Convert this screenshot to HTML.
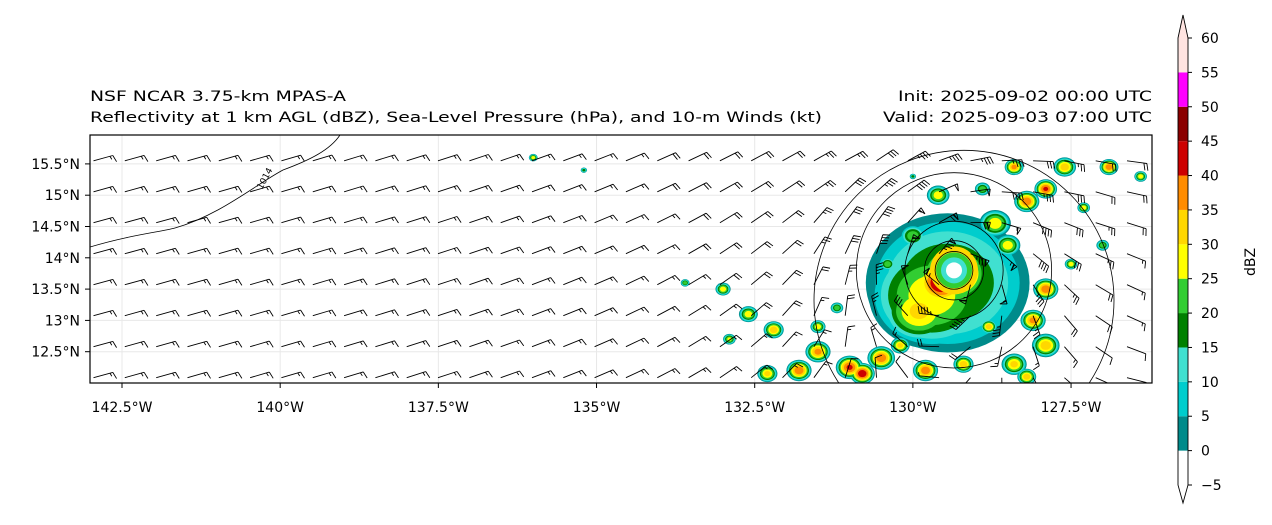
<!DOCTYPE html>
<html><head><meta charset="utf-8"><style>
body{margin:0;background:#fff;}
svg text{font-family:"DejaVu Sans","Liberation Sans",sans-serif;}
</style></head><body>
<svg id="s" width="1272" height="520" viewBox="0 0 1272 520" xmlns="http://www.w3.org/2000/svg">
<defs><clipPath id="pc"><rect x="90" y="135" width="1062" height="248"/></clipPath></defs>
<text x="90" y="101" font-size="14" textLength="256" lengthAdjust="spacingAndGlyphs">NSF NCAR 3.75-km MPAS-A</text>
<text x="90" y="122" font-size="14" textLength="732" lengthAdjust="spacingAndGlyphs">Reflectivity at 1 km AGL (dBZ), Sea-Level Pressure (hPa), and 10-m Winds (kt)</text>
<text x="898" y="101" font-size="14" textLength="254" lengthAdjust="spacingAndGlyphs">Init: 2025-09-02 00:00 UTC</text>
<text x="883" y="122" font-size="14" textLength="269" lengthAdjust="spacingAndGlyphs">Valid: 2025-09-03 07:00 UTC</text>
<g id="grid"></g>
<g id="refl" clip-path="url(#pc)"></g>
<g id="slp" clip-path="url(#pc)" fill="none" stroke="#000" stroke-width="0.8"></g>
<g id="barbs" clip-path="url(#pc)" stroke="#000" stroke-width="0.9" fill="none"></g>
<rect x="90" y="135" width="1062" height="248" fill="none" stroke="#000" stroke-width="1.2"/>
<g id="axes" font-size="14"></g>
<g id="cbar"></g>
</svg>
<script>
const lonTicks=[-142.5,-140,-137.5,-135,-132.5,-130,-127.5];
const latTicks=[12.5,13,13.5,14,14.5,15,15.5];
const cbLevels=[-5,0,5,10,15,20,25,30,35,40,45,50,55,60];
const cbColors=['#ffffff','#008b8b','#00cdcd','#40e0d0','#008000','#32cd32','#ffff00','#ffd700','#ff8c00','#cd0000','#8b0000','#ff00ff','#ffe4e1'];
const stormCenter=[-129.35,13.8];
// reflectivity blobs [lon, lat, radius(deg), peak dBZ]
const blobs=[
[-129.45,13.6,1.3,22],[-129.7,13.4,1.0,29],[-129.9,13.15,0.6,32],[-129.35,13.75,0.6,43],[-129.55,13.6,0.45,47],
[-128.7,14.55,0.25,30],[-128.2,14.9,0.2,40],[-127.9,15.1,0.18,42],[-128.4,15.45,0.15,38],[-127.6,15.45,0.18,35],
[-126.9,15.45,0.15,40],[-126.4,15.3,0.1,30],[-128.5,14.2,0.2,30],[-127.9,13.5,0.2,40],[-128.1,13.0,0.2,38],
[-127.9,12.6,0.22,35],[-128.4,12.3,0.2,33],[-127.0,14.2,0.1,25],[-129.6,15.0,0.18,30],[-130.0,14.35,0.2,25],
[-130.4,13.9,0.12,25],[-130.5,12.4,0.22,40],[-131.0,12.25,0.22,42],[-131.5,12.5,0.2,38],[-130.8,12.15,0.2,45],
[-131.8,12.2,0.2,40],[-132.2,12.85,0.16,35],[-132.6,13.1,0.15,30],[-133.0,13.5,0.12,30],[-132.3,12.15,0.16,33],
[-129.8,12.2,0.2,40],[-129.2,12.3,0.16,35],[-131.2,13.2,0.1,25],[-128.9,15.1,0.12,25],[-136.0,15.6,0.07,30],
[-135.2,15.4,0.05,20],[-127.3,14.8,0.1,30],[-130.0,15.3,0.05,20],[-133.6,13.6,0.07,25],[-128.2,12.1,0.15,35],
[-131.5,12.9,0.12,30],[-132.9,12.7,0.1,28],[-130.2,12.6,0.15,33],[-127.5,13.9,0.1,30],[-128.8,12.9,0.13,35]];
const slpCircles=[[1010,1.55],[1006,0.78],[1002,0.47],[998,0.3]];
const lon2x=l=>122+(l+142.5)*63.27, lat2y=p=>383-(p-12.0)*62.6;
const NS='http://www.w3.org/2000/svg';
function mk(t,a,p){const e=document.createElementNS(NS,t);for(const k in a)e.setAttribute(k,a[k]);p.appendChild(e);return e;}
const G=id=>document.getElementById(id);
lonTicks.forEach(l=>{const x=lon2x(l);
 const gl=mk('line',{x1:x,x2:x,y1:135,y2:383,stroke:'#e8e8e8','stroke-width':1},G('grid'));
 
 const t=mk('text',{x:x,y:412,'text-anchor':'middle'},G('axes'));t.textContent=Math.abs(l)+'°W';
 
 mk('line',{x1:x,x2:x,y1:383,y2:388,stroke:'#000'},G('axes'));});
latTicks.forEach(p=>{const y=lat2y(p);
 const gl=mk('line',{x1:90,x2:1152,y1:y,y2:y,stroke:'#e8e8e8','stroke-width':1},G('grid'));
 
 const t=mk('text',{x:80,y:y+5,'text-anchor':'end'},G('axes'));t.textContent=p+'°N';
 
 mk('line',{x1:85,x2:90,y1:y,y2:y,stroke:'#000'},G('axes'));});
const col=v=>{for(let i=cbLevels.length-2;i>=0;i--)if(v>=cbLevels[i])return cbColors[i];return '#fff';};
const rg=G('refl');
[0,5,10,15,20,25,30,35,40,45].forEach(lv=>{
 blobs.forEach(b=>{if(b[3]<=lv)return;const f=1-lv/b[3];const r=b[2]*63*Math.sqrt(f);
  const c=mk('ellipse',{cx:lon2x(b[0]),cy:lat2y(b[1]),rx:r,ry:r*0.85,fill:col(lv+0.1)},rg);
  });
});
const cx=lon2x(stormCenter[0]),cy=lat2y(stormCenter[1]);
[[24,'#ffd700'],[18,'#32cd32'],[13,'#40e0d0'],[8,'#ffffff']].forEach(d=>{const e=mk('circle',{cx:cx,cy:cy,r:d[0],fill:d[1]},rg);
 });
const sg=G('slp');
const c14=mk('path',{d:'M90,247 C130,235 160,232 175,228 C220,215 255,185 283,170 C310,160 330,150 340,135'},sg);

let t14=mk('text',{x:262,y:190,'font-size':9,transform:'rotate(-62 262 190)',fill:'#000',stroke:'none'},sg);t14.textContent='1014';

slpCircles.forEach(s=>{const e=mk('circle',{cx:cx,cy:cy,r:s[1]*63},sg);
 });
const e2=mk('circle',{cx:cx+10,cy:cy+30,r:150},sg);
const bg=G('barbs');
for(let j=0;j<8;j++)for(let i=0;i<34;i++){
 const lon=-142.95+i*0.495, lat=15.55-j*0.495;
 const x=lon2x(lon),y=lat2y(lat);
 let u=-15,v=-4;const dx=lon-stormCenter[0],dy=lat-stormCenter[1];const d=Math.hypot(dx,dy)+0.05;
 const vs=Math.min(90,60/d)*Math.exp(-d/4);u+=-vs*dy/d;v+=vs*dx/d; if(d<2.5){u+=-vs*0.3*dx/d;v+=-vs*0.3*dy/d;}
 let sp=Math.hypot(u,v);const ux=-u/sp,uy=v/sp;
 const L=20,tx=x+ux*L,ty=y+uy*L;let p='M'+x.toFixed(1)+','+y.toFixed(1)+'L'+tx.toFixed(1)+','+ty.toFixed(1);
 const px=-uy,py=ux; let s=Math.round(sp/5)*5,pos=0;
 while(s>=50){const bx=tx-ux*pos,by=ty-uy*pos;p+='M'+bx+','+by+'l'+(px*7-ux*2)+','+(py*7-uy*2)+'L'+(bx-ux*3)+','+(by-uy*3);pos+=4;s-=50;}
 while(s>=10){const bx=tx-ux*pos,by=ty-uy*pos;p+='M'+bx+','+by+'l'+(px*7+ux*2)+','+(py*7+uy*2);pos+=3;s-=10;}
 if(s>=5){const bx=tx-ux*pos,by=ty-uy*pos;p+='M'+bx+','+by+'l'+(px*3.5+ux)+','+(py*3.5+uy);}
 const e=mk('path',{d:p},bg);}
const cb=G('cbar');const cyb=v=>485-(v+5)*6.877;
for(let i=0;i<cbColors.length;i++){const r=mk('rect',{x:1178,y:cyb(cbLevels[i+1]),width:10,height:34.4,fill:cbColors[i]},cb);
 }
mk('path',{d:'M1178,'+cyb(60)+'L1183,15L1188,'+cyb(60),fill:'#ffe4e1',stroke:'none'},cb);
mk('path',{d:'M1178,485L1183,503L1188,485',fill:'#fff',stroke:'none'},cb);
mk('path',{d:'M1178,'+cyb(60)+'L1183,15L1188,'+cyb(60)+'L1188,485L1183,503L1178,485Z',fill:'none',stroke:'#000','stroke-width':0.9},cb);
cbLevels.forEach(v=>{const y=cyb(v);mk('line',{x1:1188,x2:1192,y1:y,y2:y,stroke:'#000'},cb);
 const t=mk('text',{x:1201,y:y+5,'font-size':14},cb);t.textContent=v<0?'\u2212'+(-v):v;
 });
const ct=mk('text',{x:1255,y:262,'font-size':14,'text-anchor':'middle',transform:'rotate(-90 1255 262)'},cb);ct.textContent='dBZ';

</script>
</body></html>
